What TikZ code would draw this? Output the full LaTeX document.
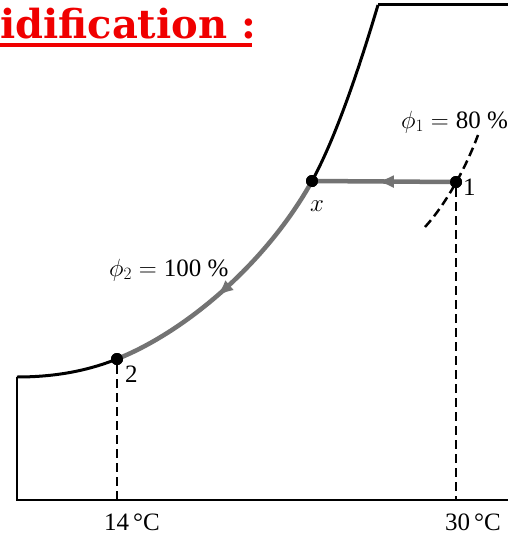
\documentclass[tikz,border=0pt]{standalone}
\usepackage{fontspec}
\setmainfont{Liberation Serif}
\newfontfamily\titlefont{DejaVu Serif}
\usetikzlibrary{decorations.markings,arrows.meta}
\definecolor{procgray}{gray}{0.45}
\definecolor{titlered}{RGB}{240,0,0}
\tikzset{
  satline/.style={line width=3pt,black},
  axisline/.style={line width=2.5pt,black},
  proc/.style={line width=4.5pt,procgray},
  dashline/.style={line width=2.5pt,dash pattern=on 9pt off 5pt},
  statept/.style={circle,fill=black,inner sep=0pt,minimum size=12pt},
  lbl/.style={font=\fontsize{25}{27}\selectfont,inner sep=0pt},
  midarrow/.style={postaction={decorate},decoration={markings,mark=at position #1 with {\arrow{Latex[length=17pt,width=13pt]}}}}
}
\begin{document}
\begin{tikzpicture}[x=1pt,y=-1pt]
\useasboundingbox (0,0) rectangle (508,535);
\clip (0,0) rectangle (508,535);
\fill[white] (0,0) rectangle (508,535);
% title
\node[anchor=base west,inner sep=0pt,text=titlered,font=\titlefont\bfseries\fontsize{40}{40}\selectfont] (title) at (0,39) {idification :};
\draw[titlered,line width=4pt] (0,45) -- (252,45);
% state points
\node[statept] (p2) at (117,359) {};
\node[statept] (px) at (312,181) {};
\node[statept] (p1) at (456,182) {};
\coordinate (bl) at (17,500);
\coordinate (br) at (508,500);
\coordinate (tl) at (17,377);
\coordinate (top) at (378,5);
\coordinate (tr) at (508,5);
\coordinate (b2) at (117,500);
\coordinate (b1) at (456,500);
\coordinate (phiA) at (425,227);
\coordinate (phiB) at (478,135);
% axes/box
\draw[axisline] (tl) -- (bl) -- (br);
\draw[satline] (top) -- (tr);
% saturation curve
\draw[satline] (tl) .. controls (60,377) and (92,369) .. (p2.center);
\draw[satline] (px.center) .. controls (340,130) and (366,45) .. (top);
% process lines
\draw[proc,midarrow=0.56] (px.center) .. controls (267,262) and (187,331) .. (p2.center);
\draw[proc,midarrow=0.55] (p1.center) -- (px.center);
% redraw points on top
\node[statept] at (p2) {};
\node[statept] at (px) {};
\node[statept] at (p1) {};
% dashed lines
\draw[dashline] (p1.south) -- (b1);
\draw[dashline] (p2.south) -- (b2);
\draw[dashline] (phiA) .. controls (445,205) and (465,170) .. (phiB);
% labels
\node[lbl,anchor=west] (l1) at (463,187) {1};
\node[lbl,anchor=west] (l2) at (125,374) {2};
\node[lbl] (lx) at (317,206) {$x$};
\node[lbl,anchor=west] (phi1) at (401,122) {$\phi_1 = {}$80~\%};
\node[lbl,anchor=west] (phi2) at (109,270) {$\phi_2 = {}$100~\%};
\node[lbl] (t14) at (132,522) {14\,°C};
\node[lbl] (t30) at (473,522) {30\,°C};
\end{tikzpicture}
\end{document}
